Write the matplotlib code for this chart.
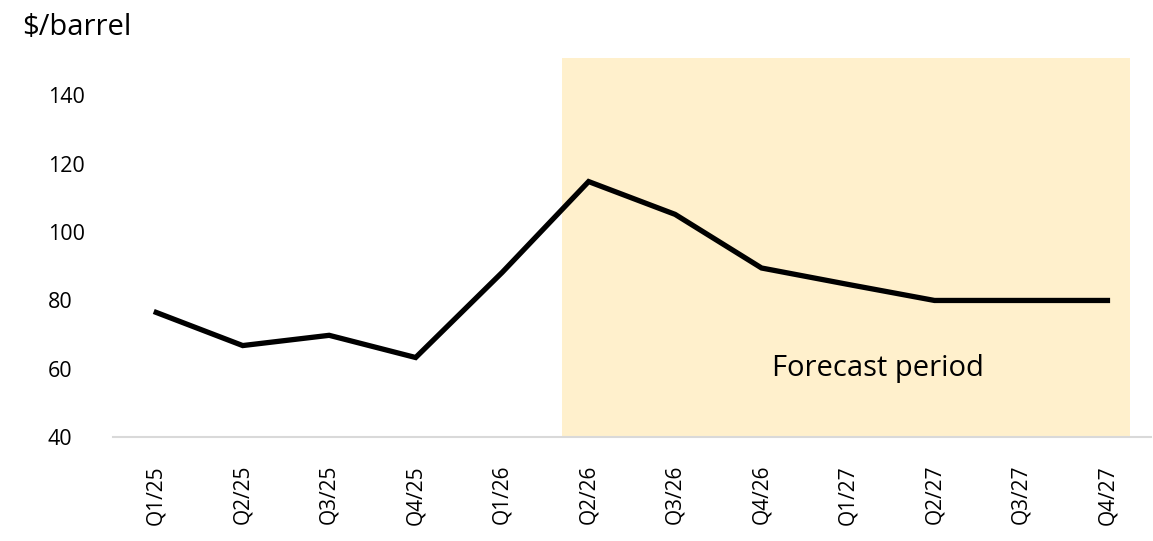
import matplotlib
matplotlib.use("Agg")
import matplotlib.pyplot as plt

plt.rcParams['font.family'] = ['Open Sans', 'DejaVu Sans']

categories = ["Q1/25", "Q2/25", "Q3/25", "Q4/25", "Q1/26", "Q2/26",
              "Q3/26", "Q4/26", "Q1/27", "Q2/27", "Q3/27", "Q4/27"]
prices = [76.5, 66.8, 69.8, 63.3, 88.2, 114.8, 105.2, 89.5, 84.7, 80, 80, 80]
yticks = [40, 60, 80, 100, 120, 140]
forecast_start = 4.69
forecast_end = 11.26

fig = plt.figure(figsize=(11.53, 5.41), dpi=100)
ax = fig.add_axes([0.098, 0.192, 0.9, 0.701])

x = list(range(len(categories)))
ax.axvspan(forecast_start, forecast_end, color="#FFF0CC", lw=0, zorder=0)
ax.plot(x, prices, color="black", lw=3.8, solid_joinstyle="miter", zorder=3)

ax.set_xlim(-0.5, len(categories) - 0.5)
ax.set_ylim(40, 151)
ax.set_yticks(yticks)
ax.set_yticklabels([str(v) for v in yticks], fontsize=15.5)
ax.set_xticks(x)
ax.set_xticklabels(categories, rotation=90, fontsize=15)
ax.tick_params(axis="x", length=0, pad=20)
ax.tick_params(axis="y", length=0, pad=47)
for lbl in ax.get_yticklabels():
    lbl.set_horizontalalignment("left")

for s in ["top", "right", "left"]:
    ax.spines[s].set_visible(False)
ax.spines["bottom"].set_color("#D9D9D9")
ax.spines["bottom"].set_linewidth(1.5)

ax.text(7.12, 60, "Forecast period", fontsize=21, va="center", ha="left")
fig.text(0.019, 0.95, "$/barrel", fontsize=21, va="center", ha="left")

fig.savefig("out.png", dpi=100)
